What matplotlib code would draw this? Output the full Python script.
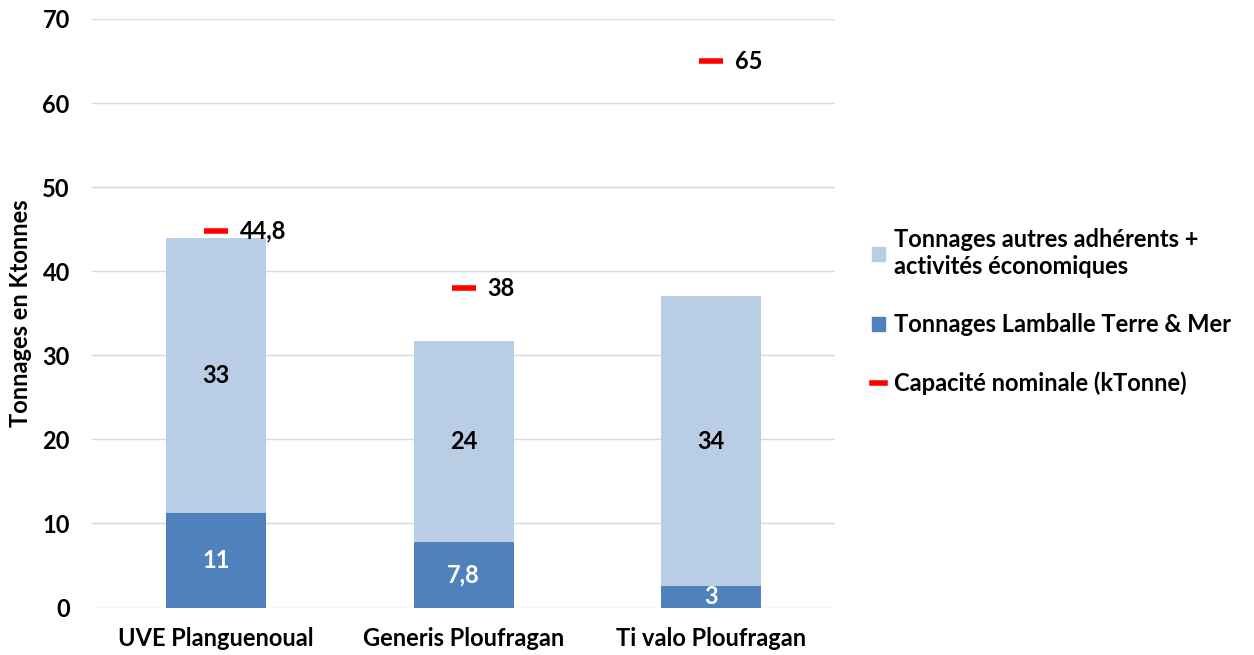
import matplotlib.pyplot as plt
from matplotlib.patches import Patch
from matplotlib.lines import Line2D

sites = ['UVE Planguenoual', 'Generis Ploufragan', 'Ti valo Ploufragan']
lamballe = [11.2, 7.8, 2.6]
autres = [32.7, 23.9, 34.4]
lamballe_labels = ['11', '7,8', '3']
autres_labels = ['33', '24', '34']
capacite = [44.8, 38, 65]
capacite_labels = ['44,8', '38', '65']

plt.rcParams['font.family'] = ['Lato', 'DejaVu Sans']
plt.rcParams['font.weight'] = 'bold'

fig = plt.figure(figsize=(12.54, 6.55), dpi=100)
ax = fig.add_axes([0.0734, 0.0725, 0.5926, 0.8985])

x = range(len(sites))
w = 0.404
ax.bar(x, lamballe, w, color='#4F81BD', zorder=2)
ax.bar(x, autres, w, bottom=lamballe, color='#B9CDE5', zorder=2)

fs = 17
for i in x:
    ax.text(i, lamballe[i] / 2, lamballe_labels[i], ha='center', va='center',
            color='white', fontsize=fs, fontweight='bold', zorder=3)
    ax.text(i, lamballe[i] + autres[i] / 2, autres_labels[i], ha='center', va='center',
            color='black', fontsize=fs, fontweight='bold', zorder=3)
    ax.annotate(capacite_labels[i], (i, capacite[i]), xytext=(17, 0), textcoords='offset points',
                ha='left', va='center', fontsize=fs, fontweight='bold')

ax.plot(list(x), capacite, linestyle='none', marker='_', markersize=17, mew=4,
        color='#FF0000', zorder=3)

ax.set_xlim(-0.5, 2.5)
ax.set_ylim(0, 70)
ax.set_yticks(range(0, 71, 10))
ax.set_xticks(list(x))
ax.set_xticklabels(sites)
ax.tick_params(axis='y', length=0, labelsize=fs, pad=16)
ax.tick_params(axis='x', length=0, labelsize=fs, pad=14)
for lab in ax.get_xticklabels() + ax.get_yticklabels():
    lab.set_fontweight('bold')
ax.grid(axis='y', color='#D9D9D9', linewidth=1, zorder=0)
for s in ax.spines.values():
    s.set_visible(False)
ax.set_ylabel('Tonnages en Ktonnes', fontsize=fs, fontweight='bold', labelpad=7)

handles = [Patch(color='#B9CDE5'), Patch(color='#4F81BD'),
           Line2D([], [], color='#FF0000', linewidth=4)]
labels = ['Tonnages autres adhérents +\nactivités économiques',
          'Tonnages Lamballe Terre & Mer',
          'Capacité nominale (kTonne)']
fig.legend(handles, labels, loc='upper left', bbox_to_anchor=(0.695, 0.652),
           frameon=False, handlelength=0.55, handleheight=0.55,
           handletextpad=0.4, labelspacing=1.5, borderpad=0, borderaxespad=0,
           prop={'weight': 'bold', 'size': fs})

fig.savefig('out.png', dpi=100)
